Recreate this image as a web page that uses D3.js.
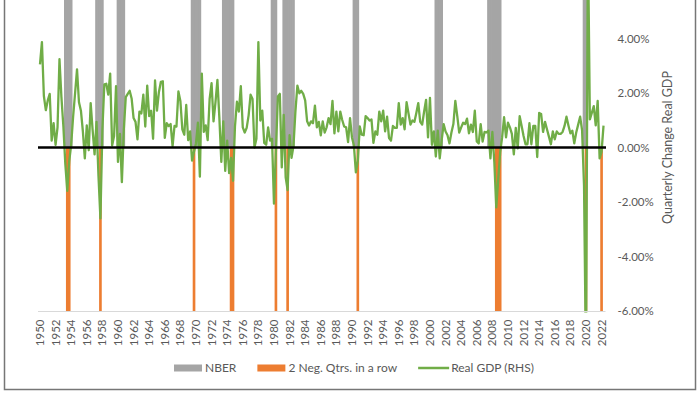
<!DOCTYPE html>
<html>
<head>
<meta charset="utf-8">
<script src="https://cdn.jsdelivr.net/npm/d3@7"></script>
<style>
  html, body { margin: 0; padding: 0; background: #ffffff; }
  svg { display: block; font-family: Lato, "Open Sans", sans-serif; }
</style>
</head>
<body>
<svg id="chart" width="700" height="394"></svg>
<script>
// ---------------- DATA ----------------
// Quarterly % change in real GDP, starting 1950 Q2, ending 2022 Q3
const startYear = 1950;
const startQuarter = 2;
const gdpGrowth = [
  3.05, 3.87, 1.89,                       // 1950 Q2-Q4
  1.37, 1.73, 1.97, 0.25,                 // 1951
  0.89, 0.10, 0.74, 3.24,                 // 1952
  1.85, 0.77, -0.61, -1.59,               // 1953
  -0.50, 0.10, 1.13, 1.99,                // 1954
  2.87, 1.66, 1.35, 0.59,                 // 1955
  -0.40, 0.81, -0.10, 1.63,               // 1956
  0.64, -0.25, 0.94, -1.04,               // 1957
  -2.60, 0.64, 2.32, 2.34,                // 1958
  1.94, 2.71, 0.07, 0.42,                 // 1959
  2.25, -0.53, 0.50, -1.27,               // 1960
  0.67, 1.85, 1.97, 2.08,                 // 1961
  1.80, 1.08, 0.94, 0.30,                 // 1962
  1.32, 1.25, 1.94, 0.77,                 // 1963
  2.27, 1.15, 1.35, 0.32,                 // 1964
  2.46, 1.35, 2.04, 2.41,                 // 1965
  2.43, 0.35, 0.89, 0.79,                 // 1966
  0.86, 0.05, 0.79, 0.77,                 // 1967
  2.06, 1.71, 0.67, 0.47,                 // 1968
  1.56, 0.27, 0.59, -0.48,                // 1969
  -0.15, 0.15, 0.91, -1.07,               // 1970
  2.71, 0.57, 0.81, 0.27,                 // 1971
  1.78, 2.36, 0.96, 1.66,                 // 1972
  2.48, 1.08, -0.53, 0.96,                // 1973
  -0.86, 0.25, -0.94, -0.38,              // 1974
  -1.22, 0.77, 1.68, 1.32,                // 1975
  2.25, 0.74, 0.55, 0.72,                 // 1976
  1.18, 1.94, 1.78, 0.00,                 // 1977
  0.32, 3.87, 0.99, 1.35,                 // 1978
  0.17, 0.10, 0.74, 0.25,                 // 1979
  0.32, -2.06, -0.13, 1.87,               // 1980
  1.97, -0.73, 1.20, -1.09,               // 1981
  -1.56, 0.45, -0.38, 0.05,               // 1982
  1.32, 2.27, 1.99, 2.08,                 // 1983
  1.97, 1.73, 0.96, 0.81,                 // 1984
  0.96, 0.89, 1.54, 0.74,                 // 1985
  0.94, 0.45, 0.96, 0.55,                 // 1986
  0.74, 1.08, 0.86, 1.71,                 // 1987
  0.52, 1.32, 0.59, 1.32,                 // 1988
  1.01, 0.77, 0.74, 0.20,                 // 1989
  1.08, 0.37, 0.07, -0.91,                // 1990
  -0.48, 0.77, 0.47, 0.45,                // 1991
  1.15, 1.08, 0.99, 1.03,                 // 1992
  0.17, 0.59, 0.47, 1.32,                 // 1993
  0.96, 1.35, 0.59, 1.13,                 // 1994
  0.35, 0.25, 0.79, 0.72,                 // 1995
  0.72, 1.63, 0.84, 1.08,                 // 1996
  0.67, 1.66, 1.25, 0.84,                 // 1997
  0.99, 0.94, 1.27, 1.63,                 // 1998
  0.94, 0.84, 1.32, 1.75,                 // 1999
  0.37, 1.82, 0.10, 0.59,                 // 2000
  -0.33, 0.62, -0.40, 0.27,               // 2001
  0.86, 0.59, 0.45, 0.15,                 // 2002
  0.55, 0.86, 1.71, 1.15,                 // 2003
  0.55, 0.74, 0.91, 0.86,                 // 2004
  1.06, 0.52, 0.84, 0.57,                 // 2005
  1.35, 0.22, 0.15, 0.86,                 // 2006
  0.22, 0.57, 0.55, 0.62,                 // 2007
  -0.40, 0.57, -0.53, -2.20,              // 2008
  -1.17, -0.18, 0.37, 1.11,               // 2009
  0.37, 0.91, 0.74, 0.50,                 // 2010
  -0.25, 0.72, -0.03, 1.15,               // 2011
  0.79, 0.42, 0.12, 0.12,                 // 2012
  0.89, 0.12, 0.79, 0.79,                 // 2013
  -0.35, 1.27, 1.23, 0.57,                // 2014
  0.94, 0.67, 0.40, 0.12,                 // 2015
  0.59, 0.30, 0.59, 0.50,                 // 2016
  0.50, 0.57, 0.79, 1.13,                 // 2017
  0.81, 0.52, 0.62, 0.15,                 // 2018
  0.55, 0.84, 1.13, 0.64,                 // 2019
  -1.40, -7.90, 7.75, 1.03,               // 2020
  1.27, 1.52, 0.81, 1.71,                 // 2021
  -0.40, -0.15, 0.80                      // 2022 Q1-Q3
];

// NBER recession quarters (grey columns)
const nberQuarters = [
  "1953Q3","1953Q4","1954Q1","1954Q2",
  "1957Q3","1957Q4","1958Q1","1958Q2",
  "1960Q2","1960Q3","1960Q4","1961Q1",
  "1969Q4","1970Q1","1970Q2","1970Q3","1970Q4",
  "1973Q4","1974Q1","1974Q2","1974Q3","1974Q4","1975Q1",
  "1980Q1","1980Q2","1980Q3",
  "1981Q3","1981Q4","1982Q1","1982Q2","1982Q3","1982Q4",
  "1990Q3","1990Q4","1991Q1",
  "2001Q1","2001Q2","2001Q3","2001Q4",
  "2007Q4","2008Q1","2008Q2","2008Q3","2008Q4","2009Q1","2009Q2",
  "2020Q1","2020Q2"
];

// Quarters flagged "2 negative quarters in a row" (orange columns)
const negQuarters = [
  "1953Q4","1954Q1",
  "1958Q1",
  "1970Q1",
  "1974Q4","1975Q1",
  "1980Q3",
  "1982Q1",
  "1991Q1",
  "2008Q4","2009Q1","2009Q2",
  "2020Q2",
  "2022Q2"
];

// axis tick labels
const tickYears = ["1950","1952","1954","1956","1958","1960","1962","1964","1966","1968",
  "1970","1972","1974","1976","1978","1980","1982","1984","1986","1988",
  "1990","1992","1994","1996","1998","2000","2002","2004","2006","2008",
  "2010","2012","2014","2016","2018","2020","2022"];
const yTicks = [-6, -4, -2, 0, 2, 4];
const yDomain = [-6, 6];
const nberValue = 6;   // column height (to axis top)
const negValue = -6;   // column depth (to axis bottom)

const legendLabels = ["NBER", "2 Neg. Qtrs. in a row", "Real GDP (RHS)"];

// ---------------- BUILD ----------------
const categories = gdpGrowth.map((v, i) => {
  const q = startQuarter - 1 + i;
  return (startYear + Math.floor(q / 4)) + "Q" + (q % 4 + 1);
});
const series = gdpGrowth.map((v, i) => ({ cat: categories[i], value: v }));

const svg = d3.select("#chart");
const textColor = "#595959";

const x = d3.scaleBand().domain(categories).range([39, 604.5]).padding(0);
const y = d3.scaleLinear().domain(yDomain).range([311, -16]);

// outer frame
svg.append("rect")
  .attr("x", 4.5).attr("y", -5).attr("width", 691).attr("height", 394.5)
  .attr("fill", "none").attr("stroke", "#767676").attr("stroke-width", 1.5);

svg.append("defs").append("clipPath").attr("id", "plotClip")
  .append("rect").attr("x", 30).attr("y", y(yDomain[1])).attr("width", 590)
  .attr("height", y(yDomain[0]) - y(yDomain[1]) + 1.5);

const plot = svg.append("g").attr("clip-path", "url(#plotClip)");

// bottom category axis line
svg.append("line")
  .attr("x1", 38).attr("x2", 605.5)
  .attr("y1", y(yDomain[0]) + 0.5).attr("y2", y(yDomain[0]) + 0.5)
  .attr("stroke", "#d9d9d9").attr("stroke-width", 1);

const overlap = 0.7; // hide anti-aliasing seams between adjacent columns

// NBER grey columns
plot.selectAll("rect.nber").data(nberQuarters).join("rect")
  .attr("class", "nber")
  .attr("x", d => x(d) - overlap / 2).attr("width", x.bandwidth() + overlap)
  .attr("y", y(nberValue)).attr("height", y(0) - y(nberValue))
  .attr("fill", "#a5a5a5");

// orange columns
plot.selectAll("rect.neg").data(negQuarters).join("rect")
  .attr("class", "neg")
  .attr("x", d => x(d) - overlap / 2).attr("width", x.bandwidth() + overlap)
  .attr("y", y(0)).attr("height", y(negValue) - y(0))
  .attr("fill", "#ed7d31");

// zero line
svg.append("line")
  .attr("x1", 38).attr("x2", 606)
  .attr("y1", y(0)).attr("y2", y(0))
  .attr("stroke", "#000").attr("stroke-width", 2.6);

// GDP line
const line = d3.line()
  .x(d => x(d.cat) + x.bandwidth() / 2)
  .y(d => y(d.value));
plot.append("path").datum(series)
  .attr("d", line)
  .attr("fill", "none").attr("stroke", "#70ad47")
  .attr("stroke-width", 2.3).attr("stroke-linejoin", "round");

// x axis (rotated year labels)
const xAxis = d3.axisBottom(x)
  .tickValues(tickYears.map(t => t + "Q" + startQuarter))
  .tickFormat((d, i) => tickYears[i])
  .tickSize(0);
const xg = svg.append("g").attr("transform", `translate(0, ${y(yDomain[0])})`).call(xAxis);
xg.select(".domain").remove();
xg.selectAll("text")
  .attr("transform", "rotate(-90)")
  .attr("text-anchor", "end")
  .attr("x", -8.5).attr("y", 0).attr("dy", "0.35em")
  .attr("fill", textColor)
  .style("font-size", "11.5px").style("font-family", "Lato, sans-serif");

// right y axis
const yAxis = d3.axisRight(y).tickValues(yTicks)
  .tickFormat(d => d.toFixed(2) + "%").tickSize(0).tickPadding(0);
const yg = svg.append("g").attr("transform", "translate(617.5,0)").call(yAxis);
yg.select(".domain").remove();
yg.selectAll("text").attr("fill", textColor)
  .style("font-size", "11.5px").style("font-family", "Lato, sans-serif");

// y axis title
svg.append("text")
  .attr("transform", `translate(672, ${y(0)}) rotate(-90)`)
  .attr("text-anchor", "middle")
  .attr("fill", textColor)
  .style("font-size", "12.5px")
  .text("Quarterly Change Real GDP");

// legend
const legend = svg.append("g").attr("transform", "translate(174, 368)");
let lx = 0;
legendLabels.forEach((label, i) => {
  const g = legend.append("g").attr("transform", `translate(${lx},0)`);
  if (i < 2) {
    g.append("rect").attr("x", 0).attr("y", -3.5).attr("width", 28).attr("height", 7)
      .attr("fill", i === 0 ? "#a5a5a5" : "#ed7d31");
  } else {
    g.append("line").attr("x1", 0).attr("x2", 31).attr("y1", 0).attr("y2", 0)
      .attr("stroke", "#70ad47").attr("stroke-width", 2.5);
  }
  const t = g.append("text")
    .attr("x", i < 2 ? 31 : 33).attr("y", 0).attr("dy", "0.35em")
    .attr("fill", textColor).style("font-size", "12px")
    .text(label);
  lx += (i < 2 ? 31 : 33) + t.node().getComputedTextLength() + 21;
});
</script>
</body>
</html>
